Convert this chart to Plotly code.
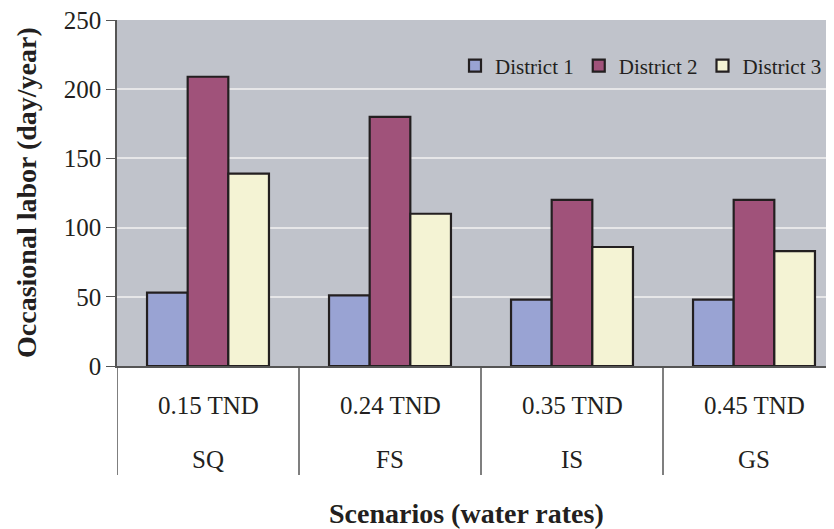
import plotly.graph_objects as go

# ---- data ----
scenarios = ["SQ", "FS", "IS", "GS"]
water_rates = ["0.15 TND", "0.24 TND", "0.35 TND", "0.45 TND"]
district_1 = [53, 51, 48, 48]
district_2 = [209, 180, 120, 120]
district_3 = [139, 110, 86, 83]
series_names = ["District 1", "District 2", "District 3"]
y_ticks = [0, 50, 100, 150, 200, 250]

colors = ["#99A3D3", "#A0527A", "#F4F3D4"]
FONT = "Liberation Serif"

fig = go.Figure()
for name, vals, col in zip(series_names, [district_1, district_2, district_3], colors):
    fig.add_trace(go.Bar(
        x=scenarios, y=vals, name=name,
        marker=dict(color=col, line=dict(color="#231F20", width=2.2)),
    ))

# page offset (body margin) of 8px
OFF = 8
W, H = 834 - OFF, 529 - OFF
# plot area in screen pixels
L, T, B, R = 117, 20, 366, 834
plot_h = B - T
plot_w = R - L

annotations = []
for s, r in zip(scenarios, water_rates):
    annotations.append(dict(x=s, xref="x", y=(B - 405) / plot_h, yref="paper",
                            text=r, showarrow=False, xanchor="center", yanchor="middle",
                            font=dict(family=FONT, size=25, color="#231F20")))
    annotations.append(dict(x=s, xref="x", y=(B - 459) / plot_h, yref="paper",
                            text=s, showarrow=False, xanchor="center", yanchor="middle",
                            font=dict(family=FONT, size=25, color="#231F20")))

annotations.append(dict(x=(466 - L) / plot_w, xref="paper", y=(B - 513) / plot_h, yref="paper",
                        text="<b>Scenarios (water rates)</b>", showarrow=False,
                        xanchor="center", yanchor="middle",
                        font=dict(family=FONT, size=28, color="#231F20")))
annotations.append(dict(x=(26 - L) / plot_w, xref="paper", y=(B - 193) / plot_h, yref="paper",
                        text="<b>Occasional labor (day/year)</b>", showarrow=False, textangle=-90,
                        xanchor="center", yanchor="middle",
                        font=dict(family=FONT, size=28, color="#231F20")))

shapes = []
for i in range(len(scenarios)):
    shapes.append(dict(type="line", xref="x", yref="paper", x0=i - 0.5, x1=i - 0.5,
                       y0=0, y1=(B - 475) / plot_h, line=dict(color="#555555", width=1.5)))

fig.update_layout(
    width=W, height=H,
    margin=dict(l=L - OFF, r=0, t=T - OFF, b=(H + OFF) - B, pad=0),
    paper_bgcolor="white",
    plot_bgcolor="#C0C3CB",
    barmode="group", bargap=0.33, bargroupgap=0,
    font=dict(family=FONT, size=25, color="#231F20"),
    showlegend=True,
    legend=dict(orientation="h", x=(455 - L) / plot_w, xanchor="left",
                y=(B - 66) / plot_h, yanchor="middle",
                bgcolor="rgba(0,0,0,0)", font=dict(family=FONT, size=21, color="#231F20"),
                itemwidth=30, traceorder="normal"),
    annotations=annotations,
    shapes=shapes,
)
fig.update_xaxes(type="category", range=[-0.5, -0.5 + plot_w / 182], showticklabels=False,
                 showline=True, linecolor="#555555", linewidth=1.5, ticks="",
                 showgrid=False, zeroline=False)
fig.update_yaxes(range=[0, 250], tickvals=y_ticks, showline=True, linecolor="#555555",
                 linewidth=1.5, ticks="outside", ticklen=9, tickcolor="#555555",
                 showgrid=True, gridcolor="#E6E6E8", gridwidth=1.5, zeroline=False,
                 ticklabeloverflow="allow",
                 tickfont=dict(family=FONT, size=25, color="#231F20"))

fig.write_html("out.html")
